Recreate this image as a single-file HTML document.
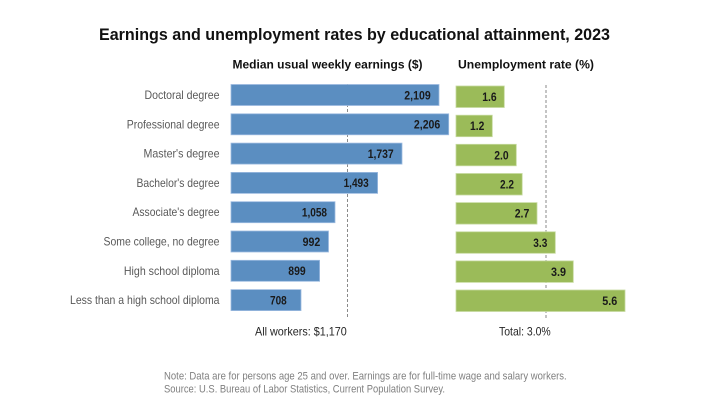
<!DOCTYPE html>
<html><head><meta charset="utf-8"><style>
html,body{margin:0;padding:0;background:#fff;}
svg{display:block;}
text{font-family:"Liberation Sans",Arial,sans-serif;}
</style></head><body>
<svg width="702" height="406" viewBox="0 0 702 406" xmlns="http://www.w3.org/2000/svg">
<rect width="702" height="406" fill="#fff"/>
<text x="99" y="40" font-size="17" font-weight="bold" fill="#111" textLength="511" lengthAdjust="spacingAndGlyphs">Earnings and unemployment rates by educational attainment, 2023</text>
<text x="232.5" y="68.5" font-size="12" font-weight="bold" fill="#111" textLength="190" lengthAdjust="spacingAndGlyphs">Median usual weekly earnings ($)</text>
<text x="458" y="68.5" font-size="12" font-weight="bold" fill="#111" textLength="136" lengthAdjust="spacingAndGlyphs">Unemployment rate (%)</text>

<line x1="347.5" y1="84" x2="347.5" y2="318" stroke="#8a8a8a" stroke-width="1" stroke-dasharray="3,2"/>
<line x1="546" y1="85" x2="546" y2="318" stroke="#8a8a8a" stroke-width="1" stroke-dasharray="3,2"/>

<g fill="#5b8ec1" stroke="#9dbbe0" stroke-width="0.8">
<rect x="231" y="84.5" width="208" height="21"/>
<rect x="231" y="113.8" width="217.7" height="21"/>
<rect x="231" y="143.1" width="171" height="21"/>
<rect x="231" y="172.4" width="146.6" height="21"/>
<rect x="231" y="201.7" width="104" height="21"/>
<rect x="231" y="231" width="97.5" height="21"/>
<rect x="231" y="260.3" width="88.6" height="21"/>
<rect x="231" y="289.6" width="70" height="21"/>
</g>
<g fill="#9bbb59" stroke="#c6da9f" stroke-width="0.8">
<rect x="456" y="86" width="48.3" height="21.5"/>
<rect x="456" y="115.2" width="36.3" height="21.5"/>
<rect x="456" y="144.3" width="60.3" height="21.5"/>
<rect x="456" y="173.5" width="66.2" height="21.5"/>
<rect x="456" y="202.6" width="81" height="21.5"/>
<rect x="456" y="231.8" width="99.3" height="21.5"/>
<rect x="456" y="260.9" width="117.3" height="21.5"/>
<rect x="456" y="290" width="169" height="21.5"/>
</g>

<g font-size="12" fill="#595959" text-anchor="end">
<text x="219.5" y="99" textLength="75" lengthAdjust="spacingAndGlyphs">Doctoral degree</text>
<text x="219.5" y="128.3" textLength="92.7" lengthAdjust="spacingAndGlyphs">Professional degree</text>
<text x="219.5" y="157.6" textLength="76" lengthAdjust="spacingAndGlyphs">Master's degree</text>
<text x="219.5" y="186.9" textLength="83" lengthAdjust="spacingAndGlyphs">Bachelor's degree</text>
<text x="219.5" y="216.2" textLength="87" lengthAdjust="spacingAndGlyphs">Associate's degree</text>
<text x="219.5" y="245.5" textLength="116" lengthAdjust="spacingAndGlyphs">Some college, no degree</text>
<text x="219.5" y="274.8" textLength="95.6" lengthAdjust="spacingAndGlyphs">High school diploma</text>
<text x="219.5" y="304.1" textLength="149.5" lengthAdjust="spacingAndGlyphs">Less than a high school diploma</text>
</g>

<g font-size="12" font-weight="bold" fill="#1a1a1a" text-anchor="end">
<text x="430.7" y="99.3" textLength="26.4" lengthAdjust="spacingAndGlyphs">2,109</text>
<text x="440.3" y="128.6" textLength="26.4" lengthAdjust="spacingAndGlyphs">2,206</text>
<text x="393.7" y="157.9" textLength="26" lengthAdjust="spacingAndGlyphs">1,737</text>
<text x="368.7" y="187.2" textLength="25.1" lengthAdjust="spacingAndGlyphs">1,493</text>
<text x="327" y="216.5" textLength="25.1" lengthAdjust="spacingAndGlyphs">1,058</text>
<text x="320.3" y="245.8" textLength="17.7" lengthAdjust="spacingAndGlyphs">992</text>
<text x="305.7" y="275.1" textLength="17.4" lengthAdjust="spacingAndGlyphs">899</text>
<text x="286.7" y="304.4" textLength="16.7" lengthAdjust="spacingAndGlyphs">708</text>

<text x="496.7" y="101" textLength="14.4" lengthAdjust="spacingAndGlyphs">1.6</text>
<text x="484.3" y="130.2" textLength="14.3" lengthAdjust="spacingAndGlyphs">1.2</text>
<text x="508.7" y="159.3" textLength="14.4" lengthAdjust="spacingAndGlyphs">2.0</text>
<text x="514" y="188.5" textLength="14" lengthAdjust="spacingAndGlyphs">2.2</text>
<text x="529.3" y="217.6" textLength="14.6" lengthAdjust="spacingAndGlyphs">2.7</text>
<text x="547.3" y="246.8" textLength="14" lengthAdjust="spacingAndGlyphs">3.3</text>
<text x="566" y="275.9" textLength="15" lengthAdjust="spacingAndGlyphs">3.9</text>
<text x="617.3" y="305" textLength="15" lengthAdjust="spacingAndGlyphs">5.6</text>
</g>

<text x="255" y="335.5" font-size="12" fill="#262626" textLength="91.7" lengthAdjust="spacingAndGlyphs">All workers: $1,170</text>
<text x="499" y="335.5" font-size="12" fill="#262626" textLength="51.7" lengthAdjust="spacingAndGlyphs">Total: 3.0%</text>

<text x="164" y="379.5" font-size="11" fill="#7f7f7f" textLength="402.7" lengthAdjust="spacingAndGlyphs">Note: Data are for persons age 25 and over. Earnings are for full-time wage and salary workers.</text>
<text x="164" y="392.5" font-size="11" fill="#7f7f7f" textLength="281" lengthAdjust="spacingAndGlyphs">Source: U.S. Bureau of Labor Statistics, Current Population Survey.</text>
</svg>
</body></html>
